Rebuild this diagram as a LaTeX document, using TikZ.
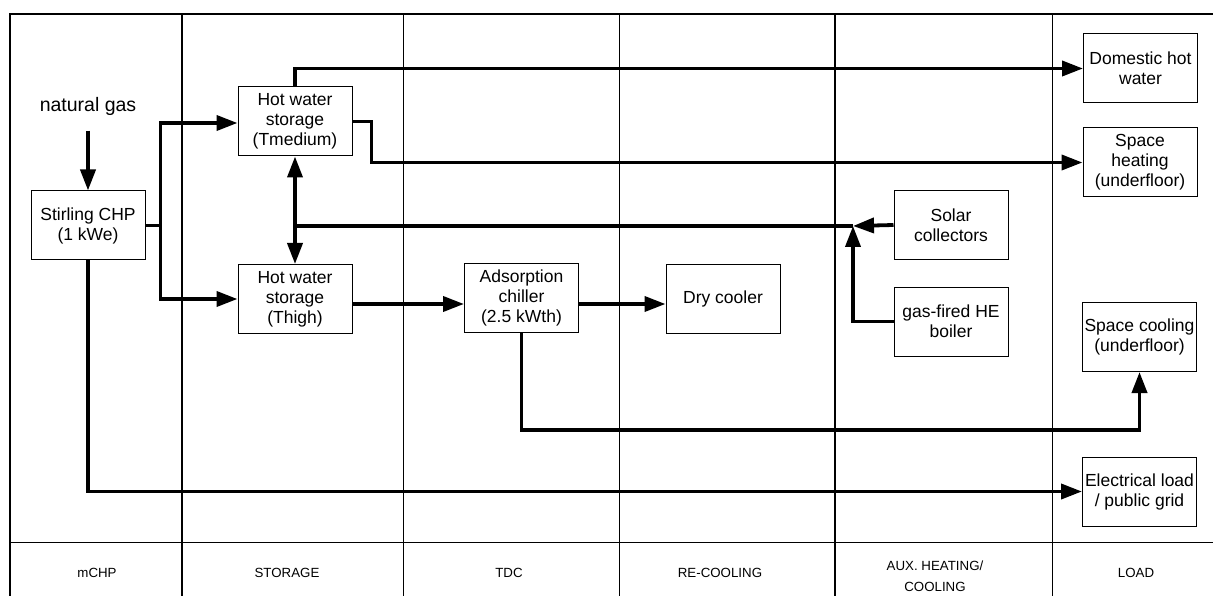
\documentclass[tikz,border=0pt]{standalone}
\usepackage{fontspec}
\setmainfont{Liberation Sans}
\usetikzlibrary{arrows.meta}
\tikzset{
  tip/.style={},
  box/.style={draw, line width=1pt, minimum width=114pt, minimum height=69pt, inner sep=0pt, align=center, font=\fontsize{17.5}{20}\selectfont},
  flow/.style={line width=3.8pt, -{Triangle[length=21pt,width=15pt]}},
  flowplain/.style={line width=3.8pt},
  dflow/.style={line width=3.8pt, {Triangle[length=21pt,width=15pt]}-{Triangle[length=21pt,width=15pt]}},
  thin/.style={line width=1pt},
  thick2/.style={line width=2pt},
  lbl/.style={font=\fontsize{13.3}{21}\selectfont, align=center}
}
\begin{document}
\begin{tikzpicture}[x=1pt,y=-1pt]
\useasboundingbox (0,0) rectangle (1213,596);
% frame
\draw[line width=1.5pt] (10,596) -- (10,14) -- (1213,14);
\draw[thin] (10,542) -- (1213,542);
\draw[thick2] (182,14) -- (182,596);
\draw[thin] (403,14) -- (403,596);
\draw[thin] (619,14) -- (619,596);
\draw[thick2] (835,14) -- (835,596);
\draw[thin] (1052,14) -- (1052,596);
% column labels
\node[lbl] (l1) at (97,573) {mCHP};
\node[lbl] (l2) at (287,573) {STORAGE};
\node[lbl] (l3) at (509,573) {TDC};
\node[lbl] (l4) at (720,573) {RE-COOLING};
\node[lbl] (l5) at (935,576) {AUX. HEATING/\\COOLING};
\node[lbl] (l6) at (1136,573) {LOAD};
% nodes
\node[font=\fontsize{19.5}{20}\selectfont] (gas) at (88,106) {natural gas};
\node[box] (chp) at (88,225.5) {Stirling CHP\\(1 kWe)};
\node[box] (hwm) at (295,121.5) {Hot water\\storage\\(Tmedium)};
\node[box] (hwh) at (295,299) {Hot water\\storage\\(Thigh)};
\node[box] (ads) at (521.5,298) {Adsorption\\chiller\\(2.5 kWth)};
\node[box] (dry) at (723,298.5) {Dry cooler};
\node[box] (dhw) at (1140.5,68.5) {Domestic hot\\water};
\node[box] (sh) at (1140,162.5) {Space\\heating\\(underfloor)};
\node[box] (sol) at (951,225) {Solar\\collectors};
\node[box] (boil) at (951,321.5) {gas-fired HE\\boiler};
\node[box] (sc) at (1139.5,337) {Space cooling\\(underfloor)};
\node[box] (el) at (1139.5,491.5) {Electrical load\\/ public grid};
\coordinate (J) at (853,226);
\coordinate (T) at (295,226);
% connectors
\draw[flow] ([yshift=-12pt]gas.south) -- (chp.north);
\draw[flowplain] (chp.east) -- ++(15,0) coordinate (split);
\draw[flow] (split) |- ([yshift=-1.5pt]hwm.west);
\draw[flow] (split) |- (hwh.west);
\draw[flow] (hwm.north) |- (dhw.west);
\draw[flow] (hwm.east) -- ++(19,0) |- (sh.west);
\draw[dflow] (hwm.south) -- (hwh.north);
\draw[flow] (sol.west) -- (J);
\draw[flow] (boil.west) -| (J);
\draw[flowplain] (J) -- (T);
\draw[flow] ([yshift=-5pt]hwh.east) -- ([yshift=-6pt]ads.west);
\draw[flow] ([yshift=-6pt]ads.east) -- ([yshift=-5.5pt]dry.west);
\draw[flow] (ads.south) -- ++(0,97) -| (sc.south);
\draw[flow] (chp.south) |- (el.west);
\end{tikzpicture}
\end{document}
